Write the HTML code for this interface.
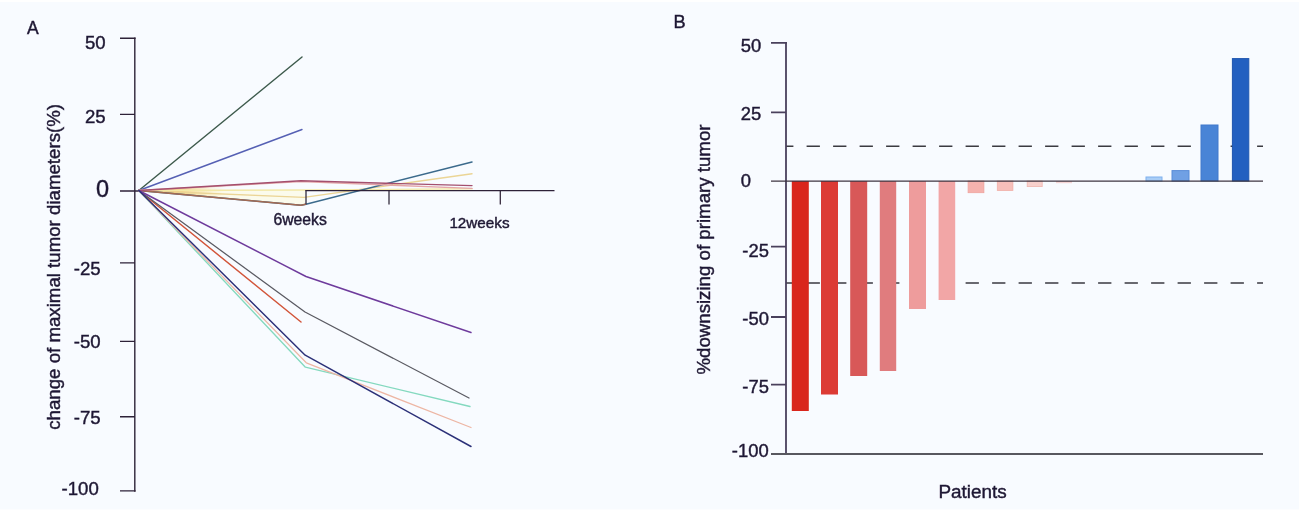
<!DOCTYPE html>
<html><head><meta charset="utf-8"><title>Figure</title>
<style>
html,body{margin:0;padding:0;background:#f8fbff;}
body{width:1302px;height:512px;overflow:hidden;position:relative;}
svg{position:absolute;left:0;top:0;display:block;}
text{font-family:"Liberation Sans",Arial,Helvetica,sans-serif;fill:#1f1834;stroke:#1f1834;stroke-width:0.42px;}
</style></head><body>
<svg width="1302" height="512" viewBox="0 0 1302 512">
<defs>
<filter id="b" x="-5%" y="-5%" width="110%" height="110%"><feGaussianBlur stdDeviation="0.55"/></filter>
<linearGradient id="wg" x1="139" y1="0" x2="225" y2="0" gradientUnits="userSpaceOnUse"><stop offset="0" stop-color="#eea030" stop-opacity="1"/><stop offset="0.4" stop-color="#f2b850" stop-opacity="0.8"/><stop offset="1" stop-color="#f6e48e" stop-opacity="0"/></linearGradient>
</defs>
<rect x="0" y="0" width="1302" height="512" fill="#f8fbff"/>
<rect x="0" y="0" width="1302" height="2" fill="#ffffff"/>
<rect x="0" y="509.5" width="1302" height="2.5" fill="#ffffff"/>
<rect x="1299" y="0" width="3" height="512" fill="#ffffff"/>
<g filter="url(#b)">
<!-- ===== Panel A ===== -->
<text x="27" y="33.6" font-size="17.5">A</text>
<g font-size="18.6" text-anchor="end">
<text x="105.6" y="48.6">50</text>
<text x="105.6" y="123.3">25</text>
<text x="109" y="197.4" font-size="23.5">0</text>
<text x="100.6" y="274.9">-25</text>
<text x="100.6" y="348.2">-50</text>
<text x="100.6" y="424.3">-75</text>
<text x="98.8" y="495">-100</text>
</g>
<text transform="translate(60,429.8) rotate(-90)" font-size="18.68">change of maximal tumor diameters(%)</text>
<g stroke="#2f2338" stroke-width="1.4" fill="none">
<path d="M134.8 37.4V491.7"/>
<path d="M120 38.2H135.6M120 114.4H135M120 191H139M120 262.9H135M120 341.4H135M120 416.7H135M120 490.9H135.6"/>
</g>
<!-- cream fill between near-zero lines -->
<path d="M139 190.5L305 190L305 204L301 205Z" fill="#fcfae9" opacity="0.85"/>
<path d="M139 190.5L250 184.6L250 200Z" fill="url(#wg)"/>
<g fill="none" stroke-width="1.45" stroke-linejoin="round" stroke-linecap="round">
<path d="M138.8 190.5L302 57" stroke="#3d5a4c"/>
<path d="M138.8 190.5L302 129.5" stroke="#5560b4"/>
<path d="M138.8 190.5L305 190L472 188.8" stroke="#f3e9a8"/>
<path d="M138.8 190.5L304 197.4L472 173.8" stroke="#ebd596"/>
<path d="M138.8 190.5L301 205.2L306 204.2L472 162" stroke="#3b6a8c"/>
<path d="M138.8 190.5L301 205.2L305.5 204.3" stroke="#a46a52" stroke-width="1.5"/>
<path d="M138.8 190.5L301 181.6L472 188.4" stroke="#e4a6a8"/>
<path d="M138.8 190.5L301 180.8L472 185.6" stroke="#a4506e"/>
<path d="M138.8 190.5L305.4 367.2L470 406.5" stroke="#84d9bf" stroke-width="1.35"/>
<path d="M138.8 190.5L306.3 362.8L471 427.5" stroke="#edb6a4" stroke-width="1.25"/>
<path d="M138.8 190.5L301 322" stroke="#d2553a"/>
<path d="M138.8 190.5L305 312L469 398" stroke="#5a5a62" stroke-width="1.25"/>
<path d="M138.8 190.5L306 276.5L471 332.5" stroke="#6e3a9c"/>
<path d="M138.8 190.5L305.2 355.2L471 446.5" stroke="#2c3078"/>
</g>
<g stroke="#2f2338" stroke-width="1.25" fill="none">
<path d="M305.5 190.7H554.5"/>
<path d="M306 190V204.2M389 190V204.4M500.3 190V204.4"/>
</g>
<text x="273.4" y="224.5" font-size="15.75" stroke-width="0.5">6weeks</text>
<text x="449.4" y="228.4" font-size="15.25" stroke-width="0.5">12weeks</text>

<!-- ===== Panel B ===== -->
<text x="673.4" y="28" font-size="18.2">B</text>
<g font-size="18.4">
<text x="740.8" y="52">50</text>
<text x="740.8" y="120">25</text>
<text x="740.8" y="186.7">0</text>
<text x="742.3" y="257">-25</text>
<text x="742.3" y="324.7">-50</text>
<text x="742.3" y="393.4">-75</text>
<text x="731.8" y="456.7">-100</text>
</g>
<text transform="translate(710,374.6) rotate(-90)" font-size="18.68">%downsizing of primary tumor</text>
<text x="938.4" y="497.9" font-size="18.9">Patients</text>
<!-- dashed reference lines -->
<g stroke="#3a3a40" stroke-width="1.5" stroke-dasharray="13.3 13.2" stroke-dashoffset="5.9" fill="none">
<path d="M786 146.2H1263"/>
<path d="M786 283H1263"/>
</g>
<!-- bars -->
<g>
<rect x="791.8" y="181" width="17" height="230" fill="#d9261c"/>
<rect x="821" y="181" width="17" height="213.5" fill="#dc3a36"/>
<rect x="850.2" y="181" width="17" height="195" fill="#d85858"/>
<rect x="879.8" y="181" width="16.4" height="190" fill="#e07c7e"/>
<rect x="909" y="181" width="17" height="128" fill="#ee9c9c"/>
<rect x="938.6" y="181" width="16.6" height="119" fill="#f2a6a6"/>
<rect x="968.1" y="181" width="15.8" height="11.7" fill="#f5b2ae" stroke="#eea49e" stroke-width="0.8"/>
<rect x="997.3" y="181" width="15.6" height="9.5" fill="#f7bfba" stroke="#f0aea8" stroke-width="0.8"/>
<rect x="1027.2" y="181" width="15" height="5.6" fill="#f8d0cc" stroke="#f0b6b0" stroke-width="0.8"/>
<rect x="1056" y="181" width="16" height="2.2" fill="#f6d6d6"/>
<rect x="1146" y="177" width="16" height="4" fill="#a9cdf6" stroke="#7fb0ee" stroke-width="1"/>
<rect x="1172" y="170.6" width="17" height="10.4" fill="#6fa0e4" stroke="#5a8cd8" stroke-width="1"/>
<rect x="1201" y="125" width="17" height="56" fill="#4a84d6" stroke="#3f78cc" stroke-width="1"/>
<rect x="1232.4" y="58.6" width="16.4" height="122.4" fill="#2360c0" stroke="#1f56b0" stroke-width="1"/>
</g>
<!-- axes -->
<g stroke="#4a405c" stroke-width="1.8" fill="none">
<path d="M786 42V454.6"/>
<path d="M771 42.9H787M771 112.3H786M771 246.7H786M771 317H786M771 384.7H786"/>
</g>
<path d="M771 181.1H1263" stroke="#3c3440" stroke-width="1.35" fill="none"/>
<path d="M771 454H1263" stroke="#58585e" stroke-width="1.9" fill="none"/>
</g>
</svg>
</body></html>
